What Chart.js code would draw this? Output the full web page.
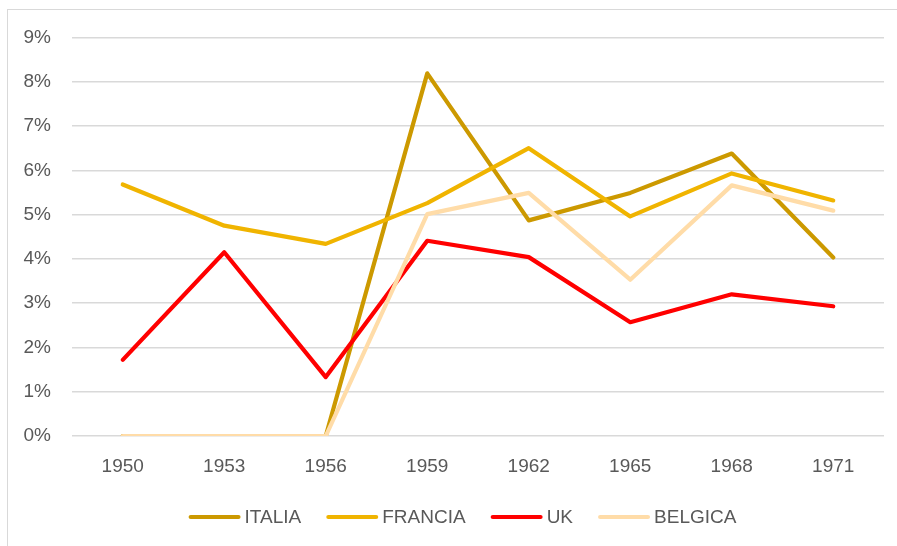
<!DOCTYPE html>
<html>
<head>
<meta charset="utf-8">
<script src="https://cdn.jsdelivr.net/npm/chart.js@4"></script>
<style>
  html, body { margin: 0; padding: 0; background: #ffffff; }
  #wrap { position: relative; width: 897px; height: 546px; overflow: hidden; }
  #frame { position: absolute; left: 7px; top: 9px; width: 900px; height: 560px; border: 1px solid #d9d9d9; box-sizing: border-box; pointer-events: none; }
  canvas { position: absolute; left: 0; top: 0; }
</style>
</head>
<body>
<div id="wrap">
  <div id="frame"></div>
  <canvas id="c" width="897" height="546"></canvas>
</div>
<script>
const years = ['1950', '1953', '1956', '1959', '1962', '1965', '1968', '1971'];
const italia  = [0, 0, 0, 8.19, 4.87, 5.49, 6.38, 4.03];
const francia = [5.68, 4.75, 4.34, 5.26, 6.50, 4.96, 5.93, 5.32];
const uk      = [1.72, 4.15, 1.33, 4.41, 4.04, 2.57, 3.20, 2.93];
const belgica = [0, 0, 0, 5.01, 5.49, 3.53, 5.66, 5.09];
const seriesNames = ['ITALIA', 'FRANCIA', 'UK', 'BELGICA'];
const seriesColors = ['#CC9900', '#F0B400', '#FF0000', '#FFDCA8'];
const yTicks = [0, 1, 2, 3, 4, 5, 6, 7, 8, 9];

const allSeries = [italia, francia, uk, belgica];
const datasets = allSeries.map((vals, i) => ({
  label: seriesNames[i],
  data: vals,
  borderColor: seriesColors[i],
  backgroundColor: seriesColors[i],
  borderWidth: 4.2,
  borderCapStyle: 'round',
  borderJoinStyle: 'round',
  pointRadius: 0,
  pointHoverRadius: 0,
  tension: 0,
  fill: false,
  order: allSeries.length - i
}));

const FONT = "'Liberation Sans', Arial, sans-serif";
const TEXT = '#595959';
const FSIZE = 19;

// Custom legend: line sample, small gap, label; centred row under the axis.
const legendPlugin = {
  id: 'rowLegend',
  afterDraw(chart, args, opts) {
    const ctx = chart.ctx;
    ctx.save();
    ctx.font = FSIZE + 'px ' + FONT;
    ctx.textBaseline = 'middle';
    const items = chart.data.datasets.map(d => ({
      label: d.label, color: d.borderColor, lw: d.borderWidth,
      tw: ctx.measureText(d.label).width
    }));
    const itemW = it => opts.sample + opts.gap + it.tw;
    const total = items.reduce((s, it) => s + itemW(it), 0) + opts.spacing * (items.length - 1);
    let x = opts.centerX - total / 2;
    const y = opts.y;
    items.forEach(it => {
      ctx.strokeStyle = it.color;
      ctx.lineWidth = it.lw;
      ctx.lineCap = 'round';
      ctx.beginPath();
      ctx.moveTo(x + it.lw / 2, y);
      ctx.lineTo(x + opts.sample - it.lw / 2, y);
      ctx.stroke();
      ctx.fillStyle = TEXT;
      ctx.textAlign = 'left';
      ctx.fillText(it.label, x + opts.sample + opts.gap, y + 1);
      x += itemW(it) + opts.spacing;
    });
    ctx.restore();
  }
};

new Chart(document.getElementById('c'), {
  type: 'line',
  data: { labels: years, datasets },
  plugins: [legendPlugin],
  options: {
    responsive: false,
    animation: false,
    events: [],
    layout: { padding: { top: 37.5, right: 13, left: 0, bottom: 0 } },
    plugins: {
      tooltip: { enabled: false },
      legend: { display: false },
      rowLegend: { centerX: 462.5, y: 517, sample: 52, gap: 4, spacing: 25 }
    },
    scales: {
      x: {
        offset: true,
        afterFit: (s) => { s.height = 110; },
        grid: { display: false },
        border: { display: false },
        ticks: { color: TEXT, font: { family: FONT, size: FSIZE }, padding: 11, maxRotation: 0 }
      },
      y: {
        min: 0,
        max: 9,
        afterFit: (s) => { s.width = 72; },
        afterBuildTicks: (s) => { s.ticks = yTicks.map(v => ({ value: v })); },
        grid: { color: '#d9d9d9', lineWidth: 1.5, drawTicks: false },
        border: { display: false },
        ticks: {
          color: TEXT,
          font: { family: FONT, size: FSIZE },
          padding: 21,
          callback: (v) => v + '%'
        }
      }
    }
  }
});
</script>
</body>
</html>
